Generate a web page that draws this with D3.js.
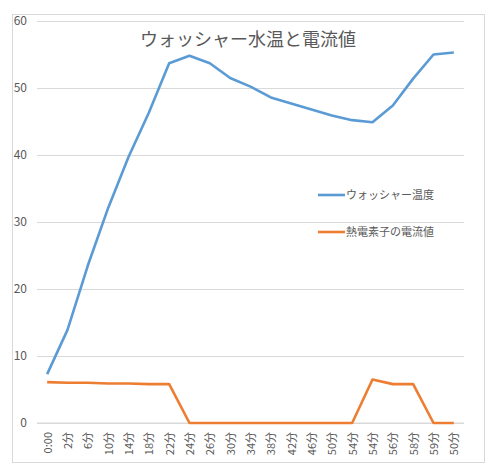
<!DOCTYPE html>
<html>
<head>
<meta charset="utf-8">
<script src="https://cdn.jsdelivr.net/npm/d3@7"></script>
<style>
  body { margin: 0; background: #fff; }
  text { font-family: "Noto Sans CJK JP", "Noto Sans", sans-serif; fill: #595959; }
</style>
</head>
<body>
<div id="vis"></div>
<script>
// data
const timeLabels = ["0:00", "2分", "6分", "10分", "14分", "18分", "22分", "24分", "26分", "30分",
  "34分", "38分", "42分", "46分", "50分", "54分", "54分", "56分", "58分", "59分", "50分"];
const washerTemp = [7.3, 13.9, 23.5, 32.1, 39.7, 46.3, 53.7, 54.8, 53.7, 51.5,
  50.2, 48.6, 47.7, 46.8, 45.9, 45.2, 44.9, 47.4, 51.4, 55.0, 55.3];
const heaterCurrent = [6.1, 6.0, 6.0, 5.9, 5.9, 5.8, 5.8, 0, 0, 0,
  0, 0, 0, 0, 0, 0, 6.5, 5.8, 5.8, 0, 0];
const yTicks = [0, 10, 20, 30, 40, 50, 60];
const seriesNames = ["ウォッシャー温度", "熱電素子の電流値"];
const seriesColors = ["#5b9bd5", "#ed7d31"];

const width = 494, height = 471;
const plot = { left: 37, right: 464, top: 21, bottom: 423 };

const svg = d3.select("#vis").append("svg")
  .attr("width", width)
  .attr("height", height);

// chart border
svg.append("rect")
  .attr("x", 12.5).attr("y", 14.5)
  .attr("width", 472).attr("height", 448)
  .attr("fill", "#fff")
  .attr("stroke", "#d9d9d9");

const x = d3.scalePoint()
  .domain(d3.range(timeLabels.length))
  .range([plot.left, plot.right])
  .padding(0.5);

const y = d3.scaleLinear()
  .domain([0, 60])
  .range([plot.bottom, plot.top]);

// gridlines + y labels
const yAxis = svg.append("g")
  .attr("transform", `translate(${plot.left},0)`)
  .call(d3.axisLeft(y).tickValues(yTicks).tickSize(-(plot.right - plot.left)).tickPadding(10));
yAxis.select(".domain").remove();
yAxis.selectAll(".tick line").attr("stroke", "#d9d9d9");
yAxis.selectAll(".tick text").attr("font-size", 12).attr("fill", "#595959");

// x axis
const xAxis = svg.append("g")
  .attr("transform", `translate(0,${plot.bottom})`)
  .call(d3.axisBottom(x).tickSize(0).tickFormat(i => timeLabels[i]));
xAxis.select(".domain").attr("stroke", "#d9d9d9").attr("d", `M${plot.left},0H${plot.right}`);
xAxis.selectAll(".tick text")
  .attr("font-size", 11)
  .attr("fill", "#595959")
  .attr("text-anchor", "end")
  .attr("dy", "0.35em")
  .attr("transform", "translate(0,9) rotate(-90)")
  .attr("x", 0).attr("y", 0);

// lines
const line = d3.line()
  .x((d, i) => x(i))
  .y(d => y(d));

[washerTemp, heaterCurrent].forEach((s, k) => {
  svg.append("path")
    .datum(s)
    .attr("fill", "none")
    .attr("stroke", seriesColors[k])
    .attr("stroke-width", 2.6)
    .attr("stroke-linejoin", "round")
    .attr("d", line);
});

// title
svg.append("text")
  .attr("x", 248).attr("y", 46)
  .attr("text-anchor", "middle")
  .attr("font-size", 18)
  .text("ウォッシャー水温と電流値");

// legend
const legend = svg.append("g");
seriesNames.forEach((name, k) => {
  const ly = 195 + k * 37;
  legend.append("line")
    .attr("x1", 318).attr("x2", 345)
    .attr("y1", ly).attr("y2", ly)
    .attr("stroke", seriesColors[k])
    .attr("stroke-width", 2.6);
  legend.append("text")
    .attr("x", 346).attr("y", ly)
    .attr("dy", "0.35em")
    .attr("font-size", 11)
    .text(name);
});
</script>
</body>
</html>
